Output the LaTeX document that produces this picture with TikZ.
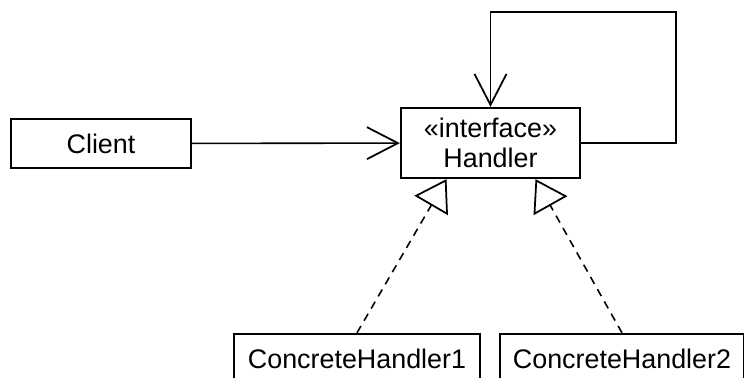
\documentclass[tikz,border=0pt]{standalone}
\usepackage{fontspec}
\setmainfont{Liberation Sans}
\usetikzlibrary{arrows.meta}
\begin{document}
\begin{tikzpicture}[font=\fontsize{15.3pt}{17pt}\selectfont,
  cls/.style={draw,line width=1.3pt,minimum height=0.98cm,inner sep=0pt},
  assoc/.style={line width=0.9pt,-{Straight Barb[length=0.62cm,width=0.64cm,line width=1pt]}},
  real/.style={line width=0.9pt,dash pattern=on 4.5pt off 3.5pt,
    -{Triangle[open,length=0.61cm,width=0.77cm,line width=1pt,fill=white]}}]
\useasboundingbox (0,0) rectangle (14.88,7.56);
\clip (0,0) rectangle (14.88,7.56);
% classes
\node[cls,minimum width=3.6cm] (client) at (2.02,4.69) {Client};
\node[cls,minimum width=3.58cm,minimum height=1.4cm,align=center] (handler) at (9.81,4.70)
  {«interface»\\Handler};
\node[cls,minimum width=4.92cm] (ch1) at (7.14,0.39) {ConcreteHandler1};
\node[cls,minimum width=4.88cm] (ch2) at (12.44,0.39) {ConcreteHandler2};
% connectors
\draw[assoc](client)--(handler);
\coordinate (loop) at (13.52,7.32);
\draw[assoc](handler.east)-|(loop)-|(handler.north);
\draw[real](ch1.north)--([xshift=-0.88cm]handler.south);
\draw[real](ch2.north)--([xshift=0.9cm]handler.south);
\end{tikzpicture}
\end{document}
